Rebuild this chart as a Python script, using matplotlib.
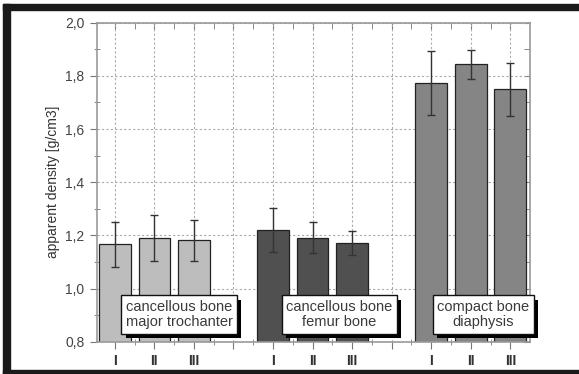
import numpy as np
import matplotlib
matplotlib.use('Agg')
import matplotlib.pyplot as plt
import matplotlib.patheffects as pe
from matplotlib.patches import Rectangle

plt.rcParams['font.family'] = ['Liberation Sans', 'DejaVu Sans']

positions = [1, 2, 3, 5, 6, 7, 9, 10, 11]
tick_labels = ['I', 'II', 'III', '', 'I', 'II', 'III', '', 'I', 'II', 'III']
density = [1.167, 1.190, 1.181, 1.220, 1.191, 1.171, 1.773, 1.844, 1.749]
density_err = [0.085, 0.087, 0.077, 0.083, 0.058, 0.044, 0.120, 0.055, 0.101]
group_names = ['cancellous bone\nmajor trochanter', 'cancellous bone\nfemur bone', 'compact bone\ndiaphysis']
group_colors = ['#bdbdbd', '#505050', '#858585']

fig = plt.figure(figsize=(5.79, 3.74), dpi=100)
ax = fig.add_axes([0.1675, 0.0864, 0.748, 0.853])

colors = [group_colors[i // 3] for i in range(len(positions))]
ax.bar(positions, density, width=0.8, bottom=0, color=colors, edgecolor='#222222', linewidth=0.9, zorder=2)
ax.errorbar(positions, density, yerr=density_err, fmt='none', ecolor='#333333', elinewidth=1.0, capsize=3, capthick=1.0, zorder=3)

ax.set_xlim(0.55, 11.5)
ax.set_ylim(0.8, 2.0)
xt = list(range(1, 12))
xt_minor = np.arange(1.5, 11.5, 1)
yt = np.arange(0.8, 2.01, 0.2)
yt_minor = np.arange(0.9, 2.0, 0.2)
ax.set_xticks(xt)
ax.set_xticklabels(tick_labels, fontsize=10, fontweight='bold', color='#333333')
ax.set_xticks(xt_minor, minor=True)
ax.set_yticks(yt)
ax.set_yticklabels([('%.1f' % v).replace('.', ',') for v in yt], fontsize=10, color='#444444')
ax.set_yticks(yt_minor, minor=True)
ax.set_ylabel('apparent density [g/cm3]', fontsize=10, color='#333333', labelpad=4)

ax.grid(True, which='major', color='#aaaaaa', linestyle=(0, (2, 2)), linewidth=0.8, zorder=0)
ax.set_axisbelow(True)
for s in ax.spines.values():
    s.set_color('#999999')
    s.set_linewidth(1.2)
ax.tick_params(which='major', direction='out', length=5, color='#777777', pad=4)
ax.tick_params(which='minor', direction='inout', length=4, color='#777777')

# inward ticks on top and right
top = ax.secondary_xaxis('top')
top.set_xticks(xt)
top.set_xticks(xt_minor, minor=True)
top.tick_params(which='both', direction='in', length=4, color='#777777', labeltop=False)
right = ax.secondary_yaxis('right')
right.set_yticks(yt)
right.set_yticks(yt_minor, minor=True)
right.tick_params(which='both', direction='in', length=4, color='#777777', labelright=False)
for sec in (top, right):
    for s in sec.spines.values():
        s.set_visible(False)

box_x = [2.63, 6.68, 10.32]
for bx, name in zip(box_x, group_names):
    t = ax.text(bx, 0.902, name, ha='center', va='center', fontsize=10.5, color='#3a3a3a', zorder=5,
                linespacing=1.15,
                bbox=dict(boxstyle='square,pad=0.3', fc='white', ec='#111111', lw=1.0))
    t.get_bbox_patch().set_path_effects([pe.SimplePatchShadow(offset=(3, -3), shadow_rgbFace='black', alpha=1.0), pe.Normal()])
    t.set_clip_on(False)

# dark frame around the figure
fig.patches.append(Rectangle((0.005, 0.0), 0.013, 0.99, transform=fig.transFigure, color='#1a1a1a', zorder=10))
fig.patches.append(Rectangle((0.005, 0.972), 0.995, 0.016, transform=fig.transFigure, color='#1a1a1a', zorder=10))
fig.patches.append(Rectangle((0.005, 0.0), 0.995, 0.011, transform=fig.transFigure, color='#1a1a1a', zorder=10))

fig.savefig('out.png', dpi=100)
